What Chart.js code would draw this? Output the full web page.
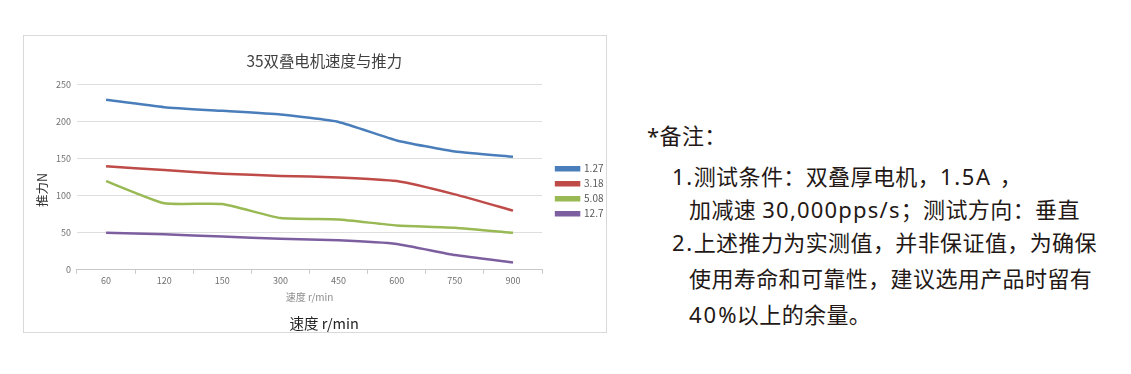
<!DOCTYPE html>
<html>
<head>
<meta charset="utf-8">
<script src="https://cdn.jsdelivr.net/npm/chart.js@4.4.1/dist/chart.umd.min.js"></script>
<style>
  body { margin: 0; background: #fff; width: 1131px; height: 374px; position: relative; overflow: hidden; }
  #box { position: absolute; left: 23px; top: 35px; width: 582px; height: 296px; border: 1px solid #d9d9d9; }
  .note { position: absolute; font-family: "Noto Sans", "Noto Sans CJK SC", sans-serif; font-size: 22px; color: #231815; line-height: 36px; white-space: nowrap; letter-spacing: 0.4px; }
  .lat { letter-spacing: 1.6px; }
</style>
</head>
<body>
<div id="box"><canvas id="myChart" width="582" height="296"></canvas></div>
<div class="note" style="left:647px; top:117px">*备注：</div>
<div class="note" style="left:672px; top:158px"><span class="lat">1.</span>测试条件：双叠厚电机，<span class="lat">1.5A</span><span style="margin-left:8px">，</span></div>
<div class="note" style="left:689px; top:191px">加减速 <span class="lat" style="letter-spacing:1.2px">30,000pps/s</span>；测试方向：垂直</div>
<div class="note" style="left:672px; top:224px"><span class="lat">2.</span>上述推力为实测值，并非保证值，为确保</div>
<div class="note" style="left:689px; top:260px">使用寿命和可靠性，建议选用产品时留有</div>
<div class="note" style="left:689px; top:296px"><span class="lat" style="letter-spacing:2px">40</span>%以上的余量。</div>
<script>
const speeds = ['60', '120', '150', '300', '450', '600', '750', '900']
const s127 = [230, 220, 215, 210, 200, 175, 160, 153]
const s318 = [140, 135, 130, 127, 125, 120, 102, 80]
const s508 = [120, 90, 89, 70, 68, 60, 57, 50]
const s127b = [50, 48, 45, 42, 40, 35, 20, 10]
const seriesNames = ['1.27', '3.18', '5.08', '12.7']
const colors = ['#4a7ebb', '#be4b48', '#98b954', '#7d5fa0']

const font = '"Noto Sans CJK SC", sans-serif'

function line(i, values) {
  return {
    label: seriesNames[i],
    data: values,
    borderColor: colors[i],
    backgroundColor: colors[i],
    borderWidth: 2.5,
    pointRadius: 0,
    tension: 0.15,
    fill: false
  }
}

const data = {
  labels: speeds,
  datasets: [line(0, s127), line(1, s318), line(2, s508), line(3, s127b)]
}

const config = {
  type: 'line',
  data: data,
  options: {
    responsive: false,
    animation: false,
    layout: { padding: { left: 11, right: -7.5, top: 0, bottom: 0 } },
    plugins: {
      title: {
        display: true,
        text: '35双叠电机速度与推力',
        color: '#404040',
        font: { family: font, size: 15.4, weight: 'normal' },
        padding: { top: 16, bottom: 14.5 }
      },
      subtitle: {
        display: true,
        position: 'bottom',
        text: '速度 r/min',
        color: '#222',
        font: { family: font, size: 14.5, weight: 'normal' },
        padding: { top: 11, bottom: 0 }
      },
      legend: {
        position: 'right',
        title: { display: true, text: ' ', font: { size: 2 }, padding: 6 },
        labels: {
          boxWidth: 23,
          boxHeight: 3,
          padding: 5,
          color: '#595959',
          font: { family: font, size: 10 }
        }
      },
      tooltip: { enabled: false }
    },
    scales: {
      x: {
        offset: true,
        grid: { drawOnChartArea: false, drawTicks: true, tickLength: 4, color: '#c8c8c8', offset: true },
        border: { color: '#c8c8c8' },
        ticks: { color: '#707070', font: { family: font, size: 9 }, padding: 1 },
        title: { display: true, text: '速度 r/min', color: '#8c8c8c', font: { family: font, size: 10 }, padding: { top: 5, bottom: 0 } }
      },
      y: {
        min: 0,
        max: 250,
        ticks: { stepSize: 50, color: '#707070', font: { family: font, size: 9 }, padding: 6 },
        grid: { color: '#dedede', drawTicks: false },
        border: { display: false },
        title: { display: true, text: '推力N\u3000\u3000', color: '#333', font: { family: font, size: 12.5 }, padding: { top: 0, bottom: 0 } }
      },
      // empty spacer between the plot and the legend
      gap: {
        type: 'linear',
        position: 'right',
        display: true,
        grid: { display: false },
        border: { display: false },
        ticks: { display: false },
        afterFit(scale) { scale.width = 9 }
      }
    }
  }
}

const myChart = new Chart(document.getElementById('myChart'), config)
</script>
</body>
</html>
